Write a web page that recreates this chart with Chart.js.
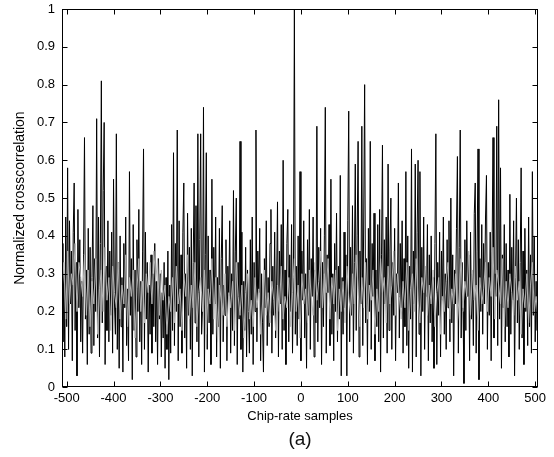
<!DOCTYPE html>
<html>
<head>
<meta charset="utf-8">
<script src="https://cdn.jsdelivr.net/npm/chart.js@4"></script>
<style>
  html, body { margin: 0; padding: 0; background: #fff; }
  canvas { display: block; }
</style>
</head>
<body>
<canvas id="xcorr" width="554" height="457"></canvas>
<script>
// crosscorrelation vs lag (chip-rate samples)
const LAG_START = -510;
const LAG_END = 506;
const BLACK_STEP = 2;
const GRAY_STEP = 4;

const BLACK_VALUES = [
  .38,.12,.30,.08,.45,.16,.58,.10,.44,.22,.36,.07,.41,.54,.15,.33,.03,.47,.21,.39,.12,.28,.09,.35,.66,
  .18,.31,.06,.42,.14,.37,.09,.29,.48,.11,.34,.20,.71,.13,.45,.08,.38,.81,.17,.52,.70,.06,.32,.15,.44,
  .12,.36,.19,.41,.09,.55,.22,.14,.67,.10,.33,.05,.40,.16,.29,.04,.38,.21,.45,.11,.26,.07,.57,.19,.34,
  .02,.43,.15,.31,.08,.39,.20,.47,.12,.28,.06,.36,.63,.10,.41,.18,.33,.04,.27,.14,.35,.09,.30,.16,.38,
  .12,.28,.06,.34,.18,.30,.08,.25,.13,.33,.05,.29,.10,.36,.02,.27,.09,.43,.15,.62,.11,.38,.20,.68,.07,
  .44,.16,.35,.09,.41,.54,.13,.30,.05,.46,.19,.37,.10,.42,.03,.33,.54,.17,.48,.12,.67,.08,.39,.67,.14,
  .21,.74,.04,.35,.62,.10,.40,.17,.31,.06,.55,.14,.37,.22,.45,.08,.29,.16,.42,.05,.34,.48,.12,.27,.19,
  .39,.07,.32,.24,.44,.09,.30,.15,.52,.11,.36,.50,.06,.33,.18,.65,.10,.41,.04,.28,.15,.37,.08,.31,.20,
  .09,.39,.14,.45,.06,.33,.20,.68,.12,.36,.25,.42,.07,.30,.17,.04,.34,.21,.44,.11,.29,.16,.38,.47,.09,
  .32,.19,.41,.13,.27,.49,.08,.36,.22,.43,.10,.60,.15,.31,.06,.38,.47,.12,.35,.20,.43,.09,.29,1.00,.14,
  .32,.11,.40,.18,.57,.07,.36,.23,.44,.13,.30,.05,.39,.19,.47,.10,.34,.24,.45,.08,.31,.17,.69,.12,.37,
  .21,.42,.06,.33,.16,.40,.74,.09,.35,.25,.43,.11,.55,.14,.30,.07,.38,.20,.46,.12,.32,.18,.56,.03,.29,
  .14,.41,.21,.35,.03,.44,.73,.12,.37,.19,.48,.09,.33,.59,.15,.40,.65,.08,.36,.22,.69,.11,.45,.80,.17,
  .34,.06,.42,.20,.65,.10,.38,.24,.46,.07,.31,.16,.43,.12,.47,.04,.35,.64,.13,.39,.22,.45,.09,.59,.15,
  .36,.50,.10,.33,.19,.42,.07,.30,.25,.54,.13,.38,.21,.44,.09,.34,.16,.57,.11,.40,.05,.32,.18,.63,.04,
  .36,.22,.59,.08,.41,.60,.14,.57,.03,.37,.20,.45,.10,.31,.24,.43,.07,.35,.17,.40,.12,.29,.05,.38,.67,
  .06,.33,.19,.41,.08,.36,.23,.45,.14,.30,.10,.39,.21,.44,.12,.50,.17,.35,.03,.31,.22,.42,.61,.09,.37,
  .68,.13,.33,.20,.01,.39,.15,.44,.24,.35,.07,.41,.18,.30,.11,.46,.54,.09,.36,.63,.02,.34,.20,.43,.14,
  .38,.22,.45,.56,.10,.33,.19,.41,.07,.36,.66,.13,.30,.24,.69,.11,.76,.18,.58,.05,.35,.21,.43,.12,.38,
  .16,.31,.08,.51,.14,.37,.23,.44,.03,.29,.50,.17,.39,.10,.33,.58,.13,.36,.06,.42,.20,.31,.11,.45,.16,
  .35,.09,.57,.19,.40,.12,.28,.15,.58
];

const GRAY_VALUES = [
  .25,.33,.18,.36,.22,.30,.27,.38,.20,.33,.29,.24,.35,.19,.31,
  .16,.28,.22,.34,.14,.26,.31,.20,.37,.23,.29,.15,.32,.25,.21,
  .33,.18,.27,.22,.35,.16,.29,.24,.31,.13,.26,.34,.20,.28,.17,
  .30,.25,.33,.22,.36,.28,.34,.19,.31,.23,.27,.14,.24,.20,.29,
  .17,.32,.22,.26,.15,.30,.24,.35,.18,.27,.21,.33,.16,.25,.29,
  .20,.31,.14,.26,.22,.34,.18,.29,.12,.27,.23,.19,.30,.16,.25,
  .21,.28,.15,.33,.24,.19,.27,.13,.25,.30,.18,.23,.16,.29,.21,
  .26,.14,.22,.31,.19,.25,.17,.28,.23,.15,.27,.20,.32,.18,.24,
  .21,.29,.16,.25,.34,.20,.27,.13,.30,.22,.26,.17,.31,.24,.19,
  .33,.23,.28,.36,.21,.30,.25,.34,.18,.29,.22,.31,.15,.26,.20,
  .28,.17,.32,.24,.19,.30,.22,.35,.26,.16,.29,.21,.33,.18,.27,
  .23,.31,.14,.26,.20,.34,.25,.29,.17,.32,.22,.27,.36,.19,.30,
  .24,.18,.28,.21,.33,.15,.26,.30,.20,.34,.23,.17,.29,.25,.32,
  .19,.27,.22,.31,.16,.25,.29,.14,.24,.20,.28,.33,.18,.26,.22,
  .30,.17,.25,.34,.21,.28,.24,.36,.19,.31,.23,.27,.15,.29,.22,
  .26,.33,.20,.29,.24,.37,.18,.31,.27,.22,.34,.16,.28,.21,.30,
  .25,.19,.32,.23,.28,.14,.26,.21,.30,.17,.27,.33,.20,.24,.18
];

const X_TICKS = [-500, -400, -300, -200, -100, 0, 100, 200, 300, 400, 500];
const Y_TICKS = [0, 0.1, 0.2, 0.3, 0.4, 0.5, 0.6, 0.7, 0.8, 0.9, 1];

const FONT = '"Liberation Sans", Arial, Helvetica, sans-serif';

function toPoints(values, step) {
  return values.map((v, i) => ({ x: LAG_START + i * step, y: v }));
}

// MATLAB-style box with inward ticks on all four sides
const framePlugin = {
  id: 'frame',
  afterDraw(chart) {
    const { ctx, chartArea: a, scales } = chart;
    const L = Math.round(a.left) + 0.5, R = Math.round(a.right) - 0.5;
    const T = Math.round(a.top) + 0.5, B = Math.round(a.bottom) - 0.5;
    ctx.save();
    ctx.strokeStyle = '#000';
    ctx.lineWidth = 1;
    ctx.strokeRect(L, T, R - L, B - T);
    ctx.beginPath();
    X_TICKS.forEach((v) => {
      const px = Math.round(scales.x.getPixelForValue(v)) + 0.5;
      ctx.moveTo(px, B); ctx.lineTo(px, B - 5);
      ctx.moveTo(px, T); ctx.lineTo(px, T + 5);
    });
    Y_TICKS.forEach((v) => {
      const py = Math.round(scales.y.getPixelForValue(v)) + 0.5;
      ctx.moveTo(L, py); ctx.lineTo(L + 5, py);
      ctx.moveTo(R, py); ctx.lineTo(R - 5, py);
    });
    ctx.stroke();
    ctx.restore();
  },
};

new Chart(document.getElementById('xcorr'), {
  type: 'line',
  data: {
    datasets: [
      {
        label: 'code B',
        data: toPoints(GRAY_VALUES, GRAY_STEP),
        borderColor: '#b4b4b4',
        borderWidth: 1,
        pointRadius: 0,
        tension: 0,
        order: 0,
      },
      {
        label: 'code A',
        data: toPoints(BLACK_VALUES, BLACK_STEP),
        borderColor: '#000',
        borderWidth: 1,
        pointRadius: 0,
        tension: 0,
        order: 1,
      },
    ],
  },
  options: {
    responsive: false,
    animation: false,
    events: [],
    layout: { padding: { left: 0, right: 16, top: 9, bottom: 0 } },
    plugins: {
      legend: { display: false },
      tooltip: { enabled: false },
      title: {
        display: true,
        position: 'bottom',
        fullSize: false,
        text: '(a)',
        color: '#111',
        font: { family: FONT, size: 19, weight: 'normal' },
        padding: { top: 4, bottom: 6 },
      },
    },
    scales: {
      x: {
        type: 'linear',
        min: LAG_START,
        max: LAG_END,
        grid: { display: false, drawTicks: false },
        border: { display: false },
        afterBuildTicks: (s) => { s.ticks = X_TICKS.map((v) => ({ value: v })); },
        afterFit: (s) => { s.height = 37; },
        ticks: {
          color: '#000',
          font: { family: FONT, size: 13 },
          padding: 3,
          maxRotation: 0,
          autoSkip: false,
        },
        title: {
          display: true,
          text: 'Chip-rate samples',
          color: '#000',
          font: { family: FONT, size: 13 },
          padding: { top: 0, bottom: 0 },
        },
      },
      y: {
        min: 0,
        max: 1,
        grid: { display: false, drawTicks: false },
        border: { display: false },
        afterBuildTicks: (s) => { s.ticks = Y_TICKS.map((v) => ({ value: v })); },
        // fixed width; drop the label overhang so the plot top sits at 9px
        afterFit: (s) => { s.width = 62; s.paddingTop = 0; s.paddingBottom = 0; },
        ticks: {
          color: '#000',
          font: { family: FONT, size: 13 },
          padding: 7,
          autoSkip: false,
          callback: (v) => String(v),
        },
        title: {
          display: true,
          text: 'Normalized crosscorrelation',
          color: '#000',
          font: { family: FONT, size: 14 },
          padding: { top: 12, bottom: 0 },
        },
      },
    },
  },
  plugins: [framePlugin],
});
</script>
</body>
</html>
